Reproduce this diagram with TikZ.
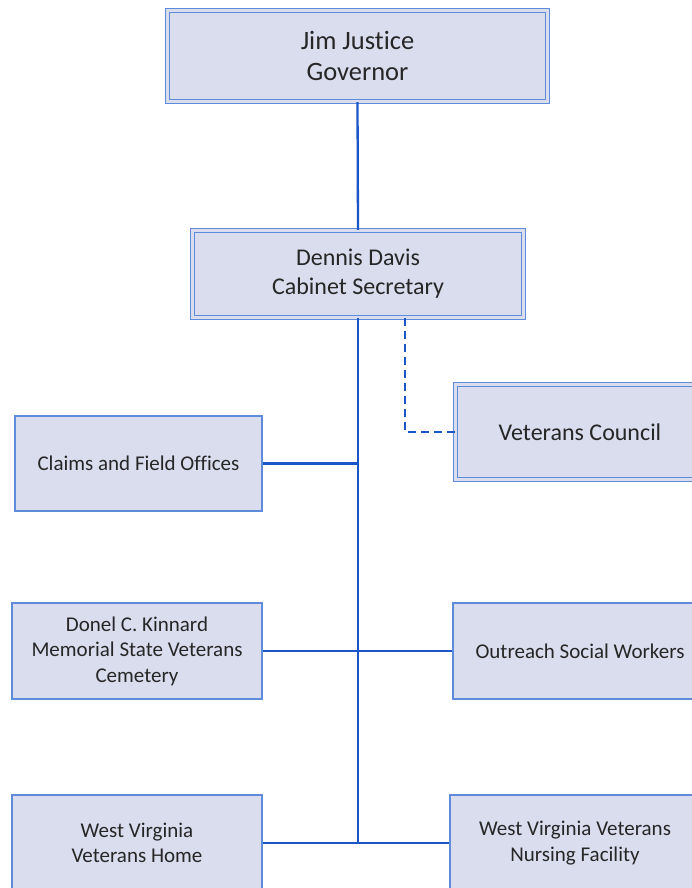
\documentclass[tikz,border=0pt]{standalone}
\usepackage{fontspec}
\setmainfont{Carlito}[Ligatures=NoCommon]
\usepackage{tikz}
\usetikzlibrary{positioning}
\definecolor{boxfill}{HTML}{DADDEE}
\definecolor{boxline}{HTML}{5F8CDA}
\definecolor{linkblue}{HTML}{1A56C8}
\definecolor{inktext}{HTML}{262626}
\tikzset{
  orgbox/.style={rectangle,draw=boxline,fill=boxfill,text=inktext,
    line width=1.3pt,align=center,inner sep=2pt,
    font=\fontsize{21}{25.5}\selectfont},
  orgdbl/.style={orgbox,double=boxfill,double distance=2.8pt,line width=1.4pt},
  orgline/.style={draw=linkblue,line width=2.3pt},
  orgdash/.style={orgline,dashed,dash pattern=on 8pt off 5pt},
}

\begin{document}
\begin{tikzpicture}[x=1pt,y=-1pt]
  \useasboundingbox (0,0) rectangle (692,888);
  \clip (0,0) rectangle (692,888);
  % top of the chart
  \node[orgdbl,minimum width=380pt,minimum height=91pt,
    font=\fontsize{26.5}{31}\selectfont] (gov) at (357.5,56) {Jim Justice\\Governor};
  \node[orgdbl,minimum width=331pt,minimum height=87pt,
    font=\fontsize{24}{29}\selectfont] (sec) at (358,274) {Dennis Davis\\Cabinet Secretary};
  \node[orgdbl,minimum width=249pt,minimum height=95pt,
    font=\fontsize{24}{29}\selectfont] (council) at (580,432) {Veterans Council};
  % divisions
  \node[orgbox,minimum width=247pt,minimum height=95pt] (claims) at (138.5,463.5) {Claims and Field Offices};
  \node[orgbox,minimum width=250pt,minimum height=96pt] (cemetery) at (137,651) {Donel C. Kinnard\\Memorial State Veterans\\Cemetery};
  \node[orgbox,minimum width=254pt,minimum height=96pt] (outreach) at (580,651) {Outreach Social Workers};
  \node[orgbox,minimum width=250pt,minimum height=96pt] (home) at (137,843) {West Virginia\\Veterans Home};
  \node[orgbox,minimum width=250pt,minimum height=96pt] (nursing) at (575,843) {West Virginia Veterans\\Nursing Facility};
  % connectors
  \draw[orgline] (gov.south) -- (sec.north);
  \draw[orgline] (home.east) -| (sec.south);
  \draw[orgline] (nursing.west) -| (sec.south);
  \draw[orgline] (claims.east) -- (claims.east -| sec.south);
  \draw[orgline] (cemetery.east) -- (outreach.west);
  \draw[orgdash] ([xshift=47pt]sec.south) |- (council.west);
\end{tikzpicture}
\end{document}
